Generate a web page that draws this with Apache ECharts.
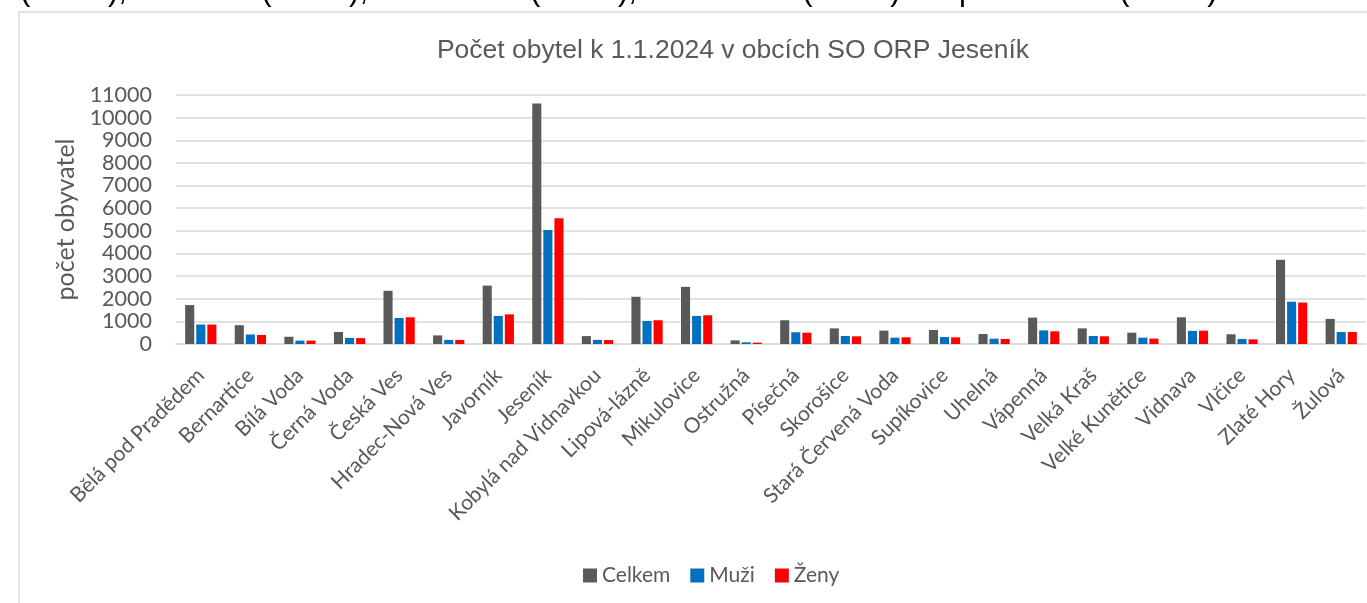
<!DOCTYPE html>
<html>
<head>
<meta charset="utf-8">
<script src="https://cdn.jsdelivr.net/npm/echarts@6/dist/echarts.min.js"></script>
<style>
  html, body { margin: 0; padding: 0; background: #fff; }
  #main { width: 1367px; height: 603px; }
</style>
</head>
<body>
<div id="main"></div>
<script>
var obce = ["Bělá pod Pradědem", "Bernartice", "Bílá Voda", "Černá Voda", "Česká Ves", "Hradec-Nová Ves",
  "Javorník", "Jeseník", "Kobylá nad Vidnavkou", "Lipová-lázně", "Mikulovice", "Ostružná", "Písečná",
  "Skorošice", "Stará Červená Voda", "Supíkovice", "Uhelná", "Vápenná", "Velká Kraš", "Velké Kunětice",
  "Vidnava", "Vlčice", "Zlaté Hory", "Žulová"];
var celkem = [1720, 830, 320, 530, 2350, 380, 2580, 10620, 350, 2086, 2524, 160, 1050, 690, 590, 620,
  440, 1165, 690, 500, 1180, 430, 3720, 1110];
var muzi = [860, 420, 150, 270, 1150, 180, 1240, 5040, 180, 1020, 1240, 75, 520, 355, 280, 310,
  235, 600, 355, 280, 580, 220, 1870, 530];
var zeny = [860, 400, 150, 260, 1180, 180, 1310, 5560, 175, 1050, 1270, 60, 500, 340, 295, 295,
  220, 560, 340, 240, 590, 205, 1830, 530];

var textColor = "#595959";
var chart = echarts.init(document.getElementById('main'));

function barSerie(name, data, color) {
  return {
    name: name,
    type: 'bar',
    data: data,
    itemStyle: { color: color },
    barGap: '22%',
    barCategoryGap: '37%'
  };
}

var option = {
  animation: false,
  title: {
    text: 'Počet obytel k 1.1.2024 v obcích SO ORP Jeseník',
    left: 728,
    textAlign: 'center',
    top: 32,
    textStyle: { fontFamily: 'Liberation Sans', fontSize: 26.5, fontWeight: 'normal', color: textColor }
  },
  graphic: [
    {
      type: 'rect',
      shape: { x: 19, y: 12, width: 1420, height: 620 },
      style: { fill: 'none', stroke: '#d9d9d9', lineWidth: 1.5 },
      silent: true
    },
    {
      type: 'text',
      left: 20,
      top: -24,
      style: {
        text: '(3 720), Javorník (2 580), Mikulovice (2 524), Česká Ves (2 350) a Lipová-lázně (2 086).',
        font: '31px "Liberation Sans"',
        fill: '#000'
      },
      silent: true
    }
  ],
  legend: {
    data: ['Celkem', 'Muži', 'Ženy'],
    left: 578,
    top: 560,
    icon: 'rect',
    itemWidth: 14,
    itemHeight: 14,
    itemGap: 20,
    itemStyle: { borderWidth: 0 },
    textStyle: { fontFamily: 'Lato', fontSize: 21, color: textColor }
  },
  grid: { left: 176, right: 1, top: 95, bottom: 259, containLabel: false },
  xAxis: {
    type: 'category',
    data: obce,
    axisTick: { show: false },
    axisLine: { lineStyle: { color: '#d9d9d9', width: 1.5 } },
    axisLabel: {
      interval: 0,
      rotate: 45,
      margin: 28,
      fontFamily: 'Lato',
      fontSize: 21,
      color: textColor
    }
  },
  yAxis: {
    type: 'value',
    min: 0,
    max: 11000,
    interval: 1000,
    name: 'počet obyvatel',
    nameLocation: 'middle',
    nameGap: 87,
    nameTextStyle: { fontFamily: 'Lato', fontSize: 25, color: textColor },
    axisLabel: {
      fontFamily: 'Lato', fontSize: 21.5, color: textColor, margin: 24,
      formatter: function (v) { return String(v); }
    },
    splitLine: { lineStyle: { color: '#d9d9d9', width: 1.5 } }
  },
  series: [
    barSerie('Celkem', celkem, '#595959'),
    barSerie('Muži', muzi, '#0070c0'),
    barSerie('Ženy', zeny, '#ff0000')
  ]
};
chart.setOption(option);
</script>
</body>
</html>
